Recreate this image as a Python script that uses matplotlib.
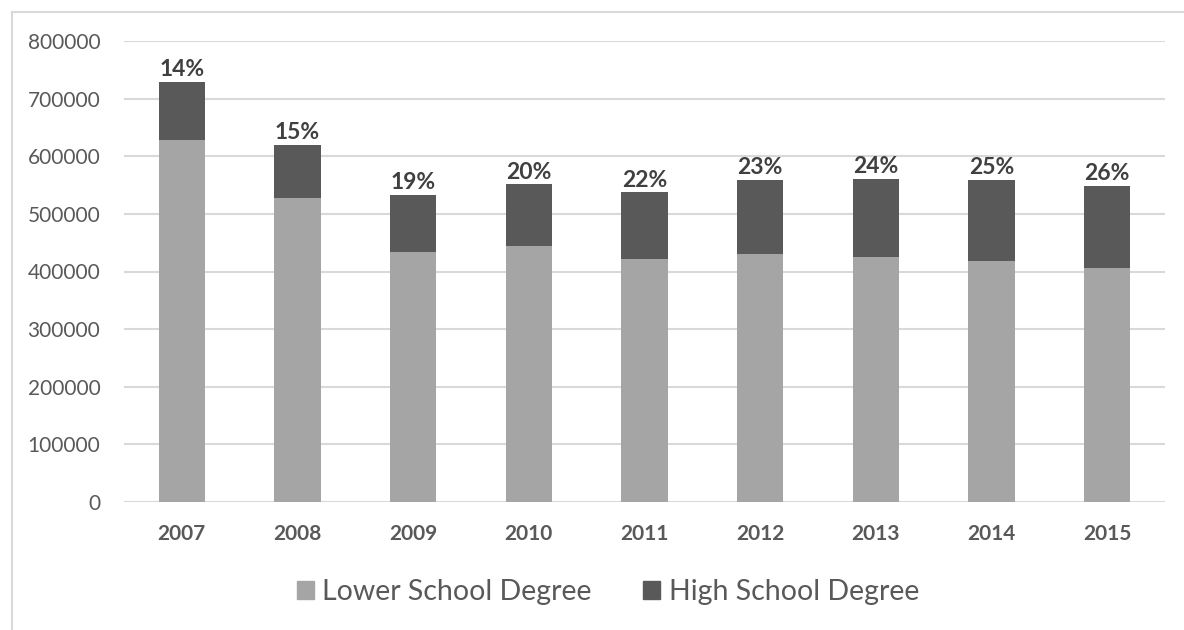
import matplotlib.pyplot as plt
from matplotlib.lines import Line2D
from matplotlib.patches import Patch

years = ['2007', '2008', '2009', '2010', '2011', '2012', '2013', '2014', '2015']
lower_school = [629000, 527000, 433000, 443500, 421000, 430000, 424500, 419000, 406000]
high_school = [100500, 92700, 100000, 107500, 116500, 128400, 136200, 139400, 142600]
share_labels = ['14%', '15%', '19%', '20%', '22%', '23%', '24%', '25%', '26%']

light = '#a5a5a5'
dark = '#595959'
text_col = '#595959'

plt.rcParams['font.family'] = ['Lato', 'DejaVu Sans']

fig = plt.figure(figsize=(11.84, 6.3), dpi=100)
ax = fig.add_axes([124 / 1184, 1 - 502 / 630, (1165 - 124) / 1184, (502 - 41) / 630])

x = range(len(years))
ax.bar(x, lower_school, width=0.4, color=light, zorder=2, label='Lower School Degree')
ax.bar(x, high_school, width=0.4, bottom=lower_school, color=dark, zorder=2,
       label='High School Degree')

# percentage labels above each stack
for i in x:
    top = lower_school[i] + high_school[i]
    ax.text(i, top + 3000, share_labels[i], ha='center', va='bottom',
            fontsize=16.5, fontweight='bold', color='#404040')

ax.set_xlim(-0.5, len(years) - 0.5)
ax.set_ylim(0, 800000)
ax.set_yticks(range(0, 800001, 100000))
ax.set_yticklabels([str(v) for v in range(0, 800001, 100000)])
ax.set_xticks(list(x))
ax.set_xticklabels(years, fontweight='bold')
ax.grid(axis='y', color='#d9d9d9', linewidth=1.5, zorder=0)
for s in ax.spines.values():
    s.set_visible(False)
ax.tick_params(axis='y', length=0, labelsize=15, labelcolor=text_col, pad=17)
ax.tick_params(axis='x', length=0, labelsize=15, labelcolor=text_col, pad=16)

# legend
handles = [Patch(color=light), Patch(color=dark)]
fig.legend(handles, ['Lower School Degree', 'High School Degree'],
           loc='center', bbox_to_anchor=(608 / 1184, 1 - 592 / 630), ncol=2,
           frameon=False, fontsize=20.5, labelcolor=text_col, handlelength=0.6,
           handleheight=0.6, handletextpad=0.3, columnspacing=1.8)

# outer chart border (top and left only are visible)
fig.add_artist(Line2D([12 / 1184, 1], [1 - 12 / 630, 1 - 12 / 630],
                      transform=fig.transFigure, color='#d9d9d9', linewidth=1.5))
fig.add_artist(Line2D([12 / 1184, 12 / 1184], [0, 1 - 12 / 630],
                      transform=fig.transFigure, color='#d9d9d9', linewidth=1.5))

fig.savefig('out.png', dpi=100)
